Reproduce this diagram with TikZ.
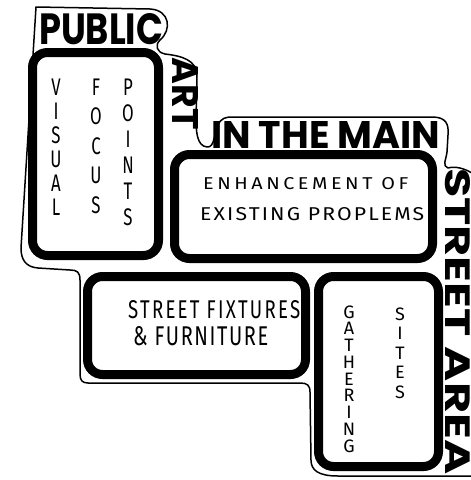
\documentclass[tikz,border=0pt]{standalone}
\usepackage{fontspec}
\usepackage{graphicx}
\setsansfont{Fira Sans}
\newfontfamily\titlefont{Poppins}
\tikzset{
  box/.style={draw=black, line width=9pt, rounded corners=15pt, inner sep=0pt},
  rim/.style={draw=black, line width=1.5pt, line join=round, line cap=round},
  hand/.style={inner sep=0pt, font=\sffamily},
  bigl/.style={hand, anchor=base, font=\sffamily\fontsize{24}{24}\selectfont},
  smalll/.style={hand, anchor=base, font=\sffamily\fontsize{18}{18}\selectfont},
  ttl/.style={inner sep=0pt, font=\titlefont\bfseries},
}
\begin{document}
\begin{tikzpicture}[x=1pt, y=-1pt]
\useasboundingbox (0,0) rectangle (471,480);
\clip (0,0) rectangle (471,480);
% outer outline
\draw[rim] (36,7) -- (150,9)
  .. controls (170,10) and (172,30) .. (160,40)
  .. controls (155,45) and (156,52) .. (165,54)
  .. controls (182,56) and (197,60) .. (197,76)
  -- (196,118)
  .. controls (196,132) and (197,146) .. (207,147)
  .. controls (215,148) and (214,132) .. (218,125)
  .. controls (221,118) and (226,117) .. (232,117)
  -- (432,117)
  .. controls (446,117) and (449,124) .. (448,135)
  -- (447,152)
  .. controls (446,160) and (442,166) .. (448,168)
  .. controls (455,166) and (465,168) .. (475,175)
  -- (475,476) -- (338,476)
  .. controls (318,476) and (311,470) .. (311,460)
  -- (310,392)
  .. controls (310,385) and (307,383) .. (300,383)
  -- (88,383)
  .. controls (82,383) and (80,380) .. (80,374)
  -- (80,280)
  .. controls (80,272) and (77,270) .. (70,270)
  -- (38,268)
  .. controls (26,267) and (21,260) .. (21,248)
  -- cycle;
% boxes
\node[box, minimum width=126pt, minimum height=203pt] (vfp) at (95.5,154) {};
\node[box, minimum width=258pt, minimum height=104pt] (enh) at (303.5,206.5) {};
\node[box, minimum width=218pt, minimum height=98pt] (sff) at (196.5,325.5) {};
\node[box, minimum width=120pt, minimum height=190pt] (gat) at (378.5,371.5) {};
% titles
\node[ttl, anchor=north west] (public) at (39,13) {\resizebox{124pt}{31pt}{PUBLIC}};
\node[ttl, rotate=-90] (art) at (185,94) {\resizebox{72pt}{26pt}{ART}};
\node[ttl, anchor=north west] (inmain) at (211,121) {\resizebox{229pt}{27pt}{IN THE MAIN}};
\node[ttl, rotate=-90, anchor=south west] (street) at (445,168) {\resizebox{306pt}{25pt}{STREET AREA}};
% vertical columns
\foreach \ch [count=\i from 0] in {V,I,S,U,A,L}
  \node[bigl] (vis\i) at (56,95+\i*24) {\scalebox{0.7}[1]{\ch}};
\foreach \ch [count=\i from 0] in {F,O,C,U,S}
  \node[bigl] (foc\i) at (96,95+\i*29.5) {\scalebox{0.7}[1]{\ch}};
\foreach \ch [count=\i from 0] in {P,O,I,N,T,S}
  \node[bigl] (poi\i) at (128,95+\i*26) {\scalebox{0.7}[1]{\ch}};
\foreach \ch [count=\i from 0] in {G,A,T,H,E,R,I,N,G}
  \node[smalll] (gth\i) at (349,318+\i*16.75) {\ch};
\foreach \ch [count=\i from 0] in {S,I,T,E,S}
  \node[smalll] (sit\i) at (400,320+\i*19.5) {\ch};
% horizontal texts
\node[hand, anchor=north west] (enh1) at (203,177) {\resizebox{205pt}{12pt}{\addfontfeatures{LetterSpace=18}ENHANCEMENT OF}};
\node[hand, anchor=north west] (enh2) at (200,207) {\resizebox{224pt}{13pt}{\addfontfeatures{LetterSpace=10}EXISTING PROPLEMS}};
\node[hand, anchor=north west] (sf1) at (128,300) {\resizebox{172pt}{18pt}{\addfontfeatures{LetterSpace=12}STREET FIXTURES}};
\node[hand, anchor=north west] (sf2) at (133,326) {\resizebox{135pt}{19pt}{\addfontfeatures{LetterSpace=8}\& FURNITURE}};
\end{tikzpicture}
\end{document}
